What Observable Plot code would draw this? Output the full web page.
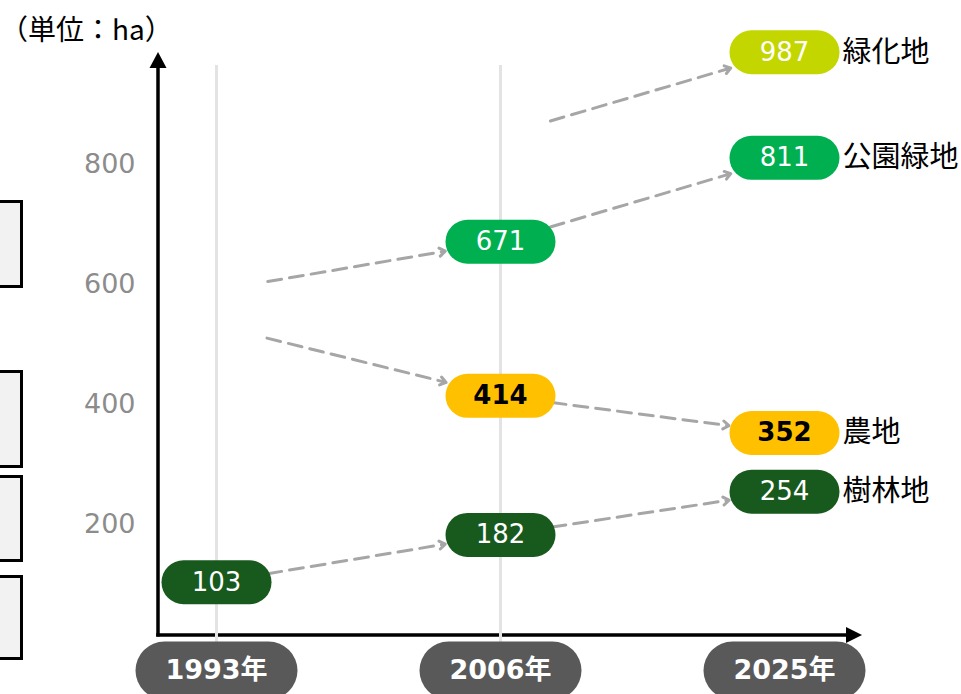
<!DOCTYPE html>
<html><head><meta charset="utf-8">
<script src="https://cdn.jsdelivr.net/npm/d3@7"></script>
<script src="https://cdn.jsdelivr.net/npm/@observablehq/plot@0.6"></script>
<style>
body{margin:0;background:#fff;}
#wrap{position:relative;width:961px;height:694px;overflow:hidden;}
#unit{position:absolute;left:0;top:8px;font-size:28px;font-family:'Noto Sans CJK JP',sans-serif;color:#000;line-height:40px;}
.box{position:absolute;left:-10px;width:33px;border:3px solid #000;background:#f2f2f2;box-sizing:border-box;}
</style></head><body>
<div id="wrap">
<div id="chart"></div>
<div id="unit"></div>
<div class="box" style="top:200px;height:88px"></div>
<div class="box" style="top:370px;height:98px"></div>
<div class="box" style="top:475px;height:87px"></div>
<div class="box" style="top:575px;height:85px"></div>
</div>
<script>
// ---- data ----
const years = ["1993", "2006", "2025"];
const yearLabels = ["1993年", "2006年", "2025年"];
const seriesNames = ["緑化地", "公園緑地", "農地", "樹林地"];
const values1993 = [null, null, null, 103];
const values2006 = [null, 671, 414, 182];
const values2025 = [987, 811, 352, 254];
// starting values of arrows whose source boxes are not shown
const hiddenFrom1993 = [null, 590, 531, null];
const hiddenFrom2006 = [848, null, null, null];
const yTicks = [200, 400, 600, 800];
const unitLabel = "（単位：ha）";

// ---- styles ----
const seriesColors = ["#c3d600", "#00b050", "#ffc000", "#185a1d"];

document.getElementById("unit").textContent = unitLabel;

const columns = [values1993, values2006, values2025];
const hidden = [hiddenFrom1993, hiddenFrom2006];
const pills = [];
columns.forEach((col, j) => col.forEach((v, i) => {
  if (v != null) pills.push({year: years[j], series: seriesNames[i], value: v});
}));
const arrows = [];
for (let j = 0; j < 2; ++j) seriesNames.forEach((s, i) => {
  const from = columns[j][i] ?? hidden[j][i];
  const to = columns[j + 1][i];
  if (from != null && to != null) arrows.push({series: s, x1: years[j], y1: from, x2: years[j + 1], y2: to});
});
const lastPills = pills.filter(d => d.year === years[years.length - 1]);

function pill(w, h) {
  return {draw(ctx) {
    const r = h / 2, a = w / 2 - r;
    ctx.moveTo(-a, -r);
    ctx.lineTo(a, -r);
    ctx.arc(a, 0, r, -Math.PI / 2, Math.PI / 2);
    ctx.lineTo(-a, r);
    ctx.arc(-a, 0, r, Math.PI / 2, 3 * Math.PI / 2);
    ctx.closePath();
  }};
}

const W = 961, H = 694, mL = 158, mR = 103, mT = 55, mB = 59;
const chart = Plot.plot({
  width: W, height: H,
  marginLeft: mL, marginRight: mR, marginTop: mT, marginBottom: mB,
  style: {fontFamily: "'DejaVu Sans','Noto Sans CJK JP',sans-serif", background: "transparent", overflow: "hidden"},
  x: {type: "point", domain: years, range: [216, 784], padding: 0, axis: null},
  y: {domain: [0, 1000], range: [643.5, 44]},
  color: {domain: seriesNames, range: seriesColors},
  marks: [
    Plot.ruleX(years.slice(0, 2), {x: d => d, stroke: "#e3e3e3", strokeWidth: 3, insetTop: 10, insetBottom: -14}),
    Plot.axisY(yTicks, {tickSize: 0, tickPadding: 23, fontSize: 27, color: "#8c8c8c", label: null}),
    Plot.arrow(arrows, {x1: "x1", y1: "y1", x2: "x2", y2: "y2", stroke: "#a6a6a6", strokeWidth: 3,
      strokeDasharray: "14,8", headLength: 3.5, headAngle: 70, insetStart: 52, insetEnd: 56}),
    Plot.dot(pills, {x: "year", y: "value", fill: "series", symbol: pill(110, 44), r: 10}),
    Plot.text(pills.filter(d => d.series !== "農地"), {x: "year", y: "value", text: d => String(d.value), fill: "white", fontSize: 26}),
    Plot.text(pills.filter(d => d.series === "農地"), {x: "year", y: "value", text: d => String(d.value), fill: "black", fontWeight: "bold", fontSize: 26}),
    Plot.text(lastPills, {x: "year", y: "value", text: "series", textAnchor: "start", dx: 58, fontSize: 29, fontFamily: "'Noto Sans CJK JP',sans-serif", fill: "black"}),
    Plot.dot(years, {x: d => d, frameAnchor: "bottom", dy: 35, symbol: pill(162, 58), fill: "#595959", r: 10}),
    Plot.text(years, {x: d => d, text: (d, i) => yearLabels[i], frameAnchor: "bottom", lineAnchor: "middle", dy: 35, fill: "white", fontWeight: "bold", fontSize: 27})
  ]
});
document.getElementById("chart").append(chart);

// axis lines with arrowheads (decoration)
const svg = d3.select(chart);
const g = svg.insert("g", "g");
const L = mL, B = H - mB, R = W - mR;
g.append("line").attr("x1", L).attr("x2", L).attr("y1", B + 1.5).attr("y2", mT + 10).attr("stroke", "#000").attr("stroke-width", 3.5);
g.append("path").attr("d", `M${L},${mT - 3} L${L - 8.5},${mT + 13} L${L + 8.5},${mT + 13} Z`).attr("fill", "#000");
g.append("line").attr("x1", L - 1.75).attr("x2", R - 10).attr("y1", B).attr("y2", B).attr("stroke", "#000").attr("stroke-width", 3.5);
g.append("path").attr("d", `M${R + 4},${B} L${R - 12},${B - 8} L${R - 12},${B + 8} Z`).attr("fill", "#000");
</script>
</body></html>
